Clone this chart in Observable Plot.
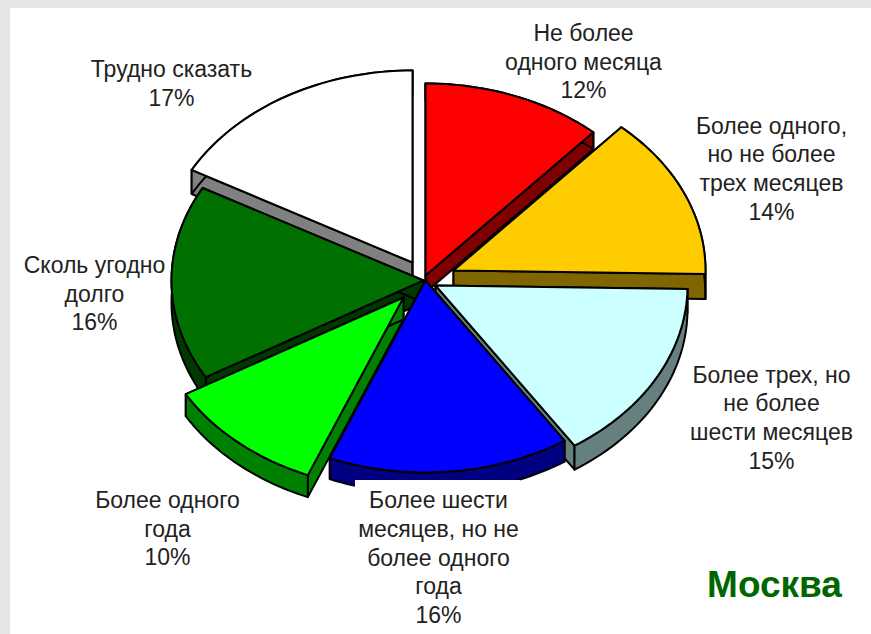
<!DOCTYPE html>
<html>
<head>
<meta charset="utf-8">
<script src="https://cdn.jsdelivr.net/npm/d3@7"></script>
<script src="https://cdn.jsdelivr.net/npm/@observablehq/plot@0.6"></script>
<style>html,body{margin:0;padding:0;background:#fff}svg{display:block}</style>
</head>
<body>
<div id="chart"></div>
<script>
// Data, clockwise from twelve o'clock
const categories = [
  "Не более\nодного месяца",
  "Более одного,\nно не более\nтрех месяцев",
  "Более трех, но\nне более\nшести месяцев",
  "Более шести\nмесяцев, но не\nболее одного\nгода",
  "Более одного\nгода",
  "Сколь угодно\nдолго",
  "Трудно сказать"
];
const shares = [11.6, 13.7, 15.4, 15.5, 10.4, 16.4, 17.0];

// Styling
const topColors  = ["#ff0000", "#ffcc00", "#ccffff", "#0000ff", "#00ff00", "#007000", "#ffffff"];
const sideColors = ["#800000", "#806600", "#668080", "#000080", "#008000", "#003800", "#808080"];

// Layout: exploded apex of each slice, its thickness, label anchors
const apexX  = [425, 453, 435, 425, 403, 423, 412];
const apexY  = [275, 270, 285, 280, 297, 280, 262];
const depths = [17, 25, 24, 21, 22, 22, 24];
const labelX = [583, 771, 771, 438, 167, 94, 171];
const labelY = [60, 167, 416, 556, 527, 292, 82];
const drawOrder = [6, 0, 1, 2, 5, 3, 4];
const rx = 252, ry = 192;
const panel = [{x1: 10, x2: 871, y1: 8, y2: 634}];
const labelMask = [{x1: 355, x2: 520, y1: 480, y2: 500}];

// Geometry derived from the shares
const rad = d => d * Math.PI / 180;
const cum = d3.cumsum(shares);
const total = cum[cum.length - 1];
const angles = shares.map((_, i) => [(i ? cum[i - 1] : 0) / total * 360, cum[i] / total * 360]);
const faces = [];
function addFace(id, color, pts) {
  [...pts, pts[0]].forEach(([x, y]) => faces.push({id, color, x, y}));
}
for (const i of drawOrder) {
  const [a0, a1] = angles[i], ax = apexX[i], ay = apexY[i], dp = depths[i];
  const n = Math.max(2, Math.ceil((a1 - a0) / 1.5));
  const arc = d3.range(n + 1).map(k => {
    const a = rad(a0 + (a1 - a0) * k / n);
    return [ax + rx * Math.sin(a), ay - ry * Math.cos(a)];
  });
  const low = ([x, y]) => [x, y + dp];
  const first = arc[0], last = arc[n];
  addFace(`s${i}`, sideColors[i], [[ax, ay], first, low(first), [ax, ay + dp]]);
  addFace(`e${i}`, sideColors[i], [[ax, ay], last, low(last), [ax, ay + dp]]);
  addFace(`b${i}`, sideColors[i], [...arc, ...arc.slice().reverse().map(low)]);
  addFace(`t${i}`, topColors[i], [[ax, ay], ...arc]);
}
const labels = categories.map((c, i) => ({
  text: `${c}\n${Math.round(shares[i])}%`, x: labelX[i], y: labelY[i]
}));

const chart = Plot.plot({
  width: 871,
  height: 634,
  margin: 0,
  style: {background: "#e5e5e5", fontFamily: "'Liberation Sans', Arial, sans-serif"},
  x: {domain: [0, 871], range: [0, 871], axis: null},
  y: {domain: [0, 634], range: [0, 634], axis: null},
  color: {type: "identity"},
  marks: [
    Plot.rect(panel, {x1: "x1", x2: "x2", y1: "y1", y2: "y2", fill: "#ffffff"}),
    Plot.line(faces, {x: "x", y: "y", z: "id", fill: "color", stroke: "#000000", strokeWidth: 2, strokeLinejoin: "round"}),
    Plot.rect(labelMask, {x1: "x1", x2: "x2", y1: "y1", y2: "y2", fill: "#ffffff"}),
    Plot.text(labels, {x: "x", y: "y", text: "text", fontSize: 23, lineHeight: 1.25, fill: "#222222"}),
    Plot.text(["Москва"], {x: [774], y: [585], text: d => d, fontSize: 37, fontWeight: "bold", fill: "#006600"})
  ]
});
document.getElementById("chart").append(chart);
</script>
</body>
</html>
